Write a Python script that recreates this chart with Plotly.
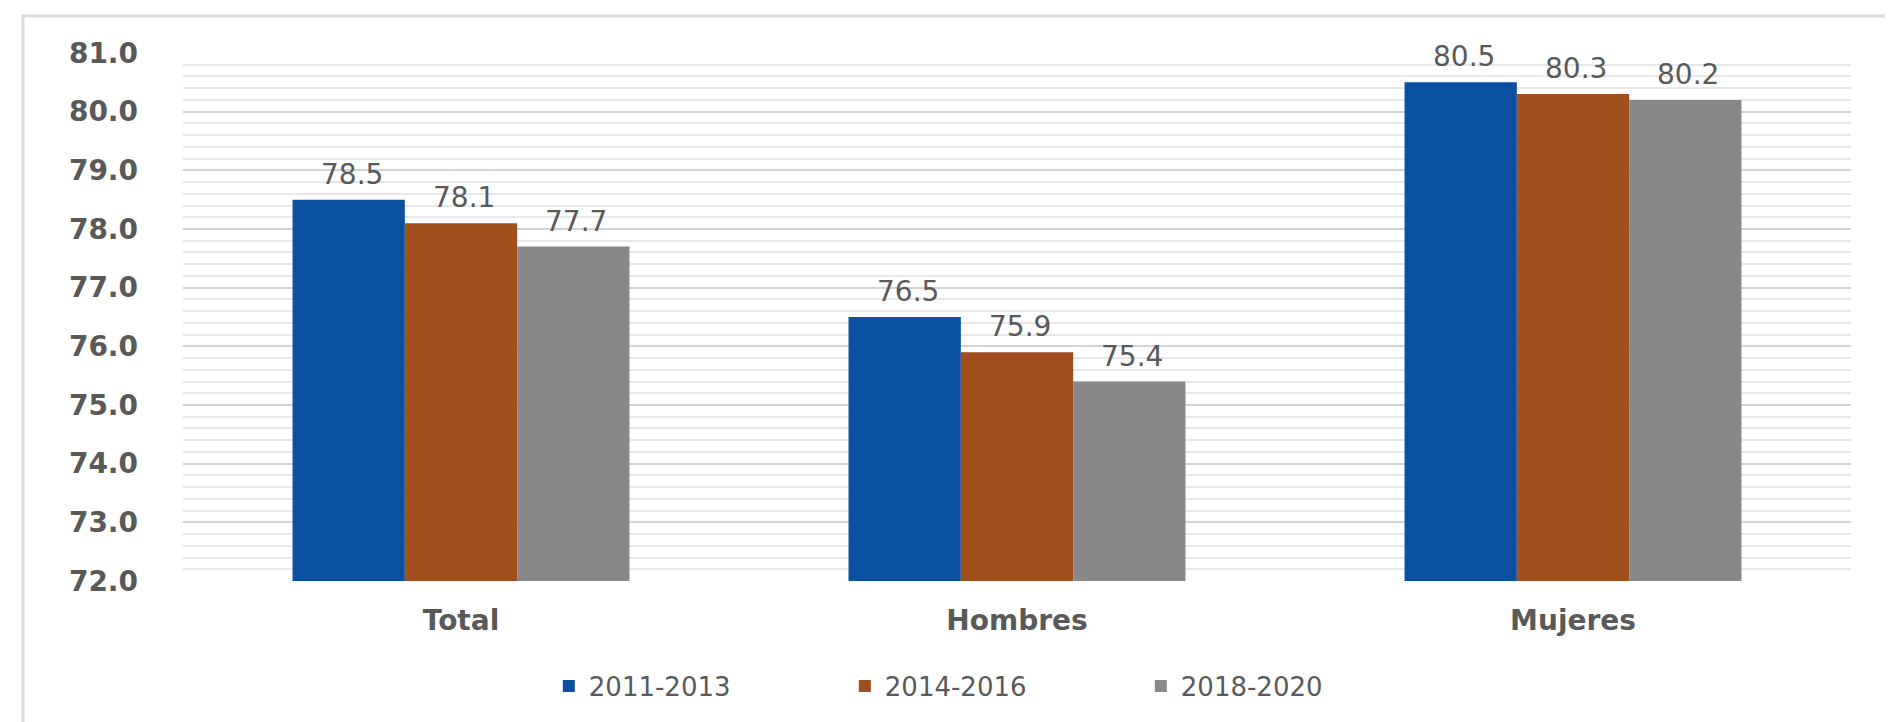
import plotly.graph_objects as go

categories = ["Total", "Hombres", "Mujeres"]
series_names = ["2011-2013", "2014-2016", "2018-2020"]
values_2011_2013 = [78.5, 76.5, 80.5]
values_2014_2016 = [78.1, 75.9, 80.3]
values_2018_2020 = [77.7, 75.4, 80.2]
y_ticks = [72.0, 73.0, 74.0, 75.0, 76.0, 77.0, 78.0, 79.0, 80.0, 81.0]

series_values = [values_2011_2013, values_2014_2016, values_2018_2020]
colors = ["#0A4FA0", "#A0501C", "#888888"]
text_color = "#595959"

W, H = 1893, 722
ML, MR, MT, MB = 175, 50, 45, 149
BARGAP = 0.394
plot_w = W - ML - MR
plot_h = H - MT - MB
bar_px = plot_w / len(categories) * (1 - BARGAP) / len(series_names)

fig = go.Figure()
for name, vals, col in zip(series_names, series_values, colors):
    fig.add_trace(go.Bar(
        x=categories, y=vals, name=name,
        marker=dict(color=col, line=dict(width=0)),
        cliponaxis=False,
    ))

annotations = []
for i, vals in enumerate(series_values):
    for cat, v in zip(categories, vals):
        annotations.append(dict(
            x=cat, y=v, xref="x", yref="y",
            text=f"{v:.1f}", showarrow=False,
            xanchor="center", yanchor="bottom",
            xshift=(i - (len(series_names) - 1) / 2) * bar_px + 3,
            yshift=7,
            font=dict(family="DejaVu Sans", size=28, color=text_color),
        ))

fig.update_layout(
    width=W, height=H,
    margin=dict(l=ML, r=MR, t=MT, b=MB),
    paper_bgcolor="white", plot_bgcolor="white",
    barmode="group", bargap=BARGAP, bargroupgap=0,
    font=dict(family="DejaVu Sans", color=text_color),
    showlegend=True,
    legend=dict(
        orientation="h", x=0.4855, xanchor="center", y=-0.199, yanchor="middle",
        font=dict(family="DejaVu Sans", size=26, color=text_color),
        entrywidth=251, entrywidthmode="pixels",
        bgcolor="rgba(0,0,0,0)",
    ),
    xaxis=dict(
        showgrid=False, showline=False, zeroline=False,
        ticks="", ticklabelstandoff=20,
        tickfont=dict(family="DejaVu Sans", size=28, color=text_color, weight="bold"),
    ),
    yaxis=dict(
        range=[72, 81], tickvals=y_ticks,
        ticktext=[f"{t:.1f}" for t in y_ticks],
        showgrid=True, gridcolor="#d3d3d3", gridwidth=2,
        zeroline=False, showline=False, ticks="",
        ticklabelstandoff=44,
        tickfont=dict(family="DejaVu Sans", size=28, color=text_color, weight="bold"),
        minor=dict(dtick=0.2, tick0=72, showgrid=True, gridcolor="#e8e8e8", gridwidth=2),
    ),
    annotations=annotations,
    shapes=[dict(
        type="rect", xref="paper", yref="paper",
        x0=-(ML - 15) / plot_w, x1=1.2, y0=-0.5, y1=1 + (MT - 8) / plot_h,
        line=dict(color="#d9d9d9", width=3), fillcolor="rgba(0,0,0,0)", layer="below",
    )],
)

fig.write_html("out.html")
